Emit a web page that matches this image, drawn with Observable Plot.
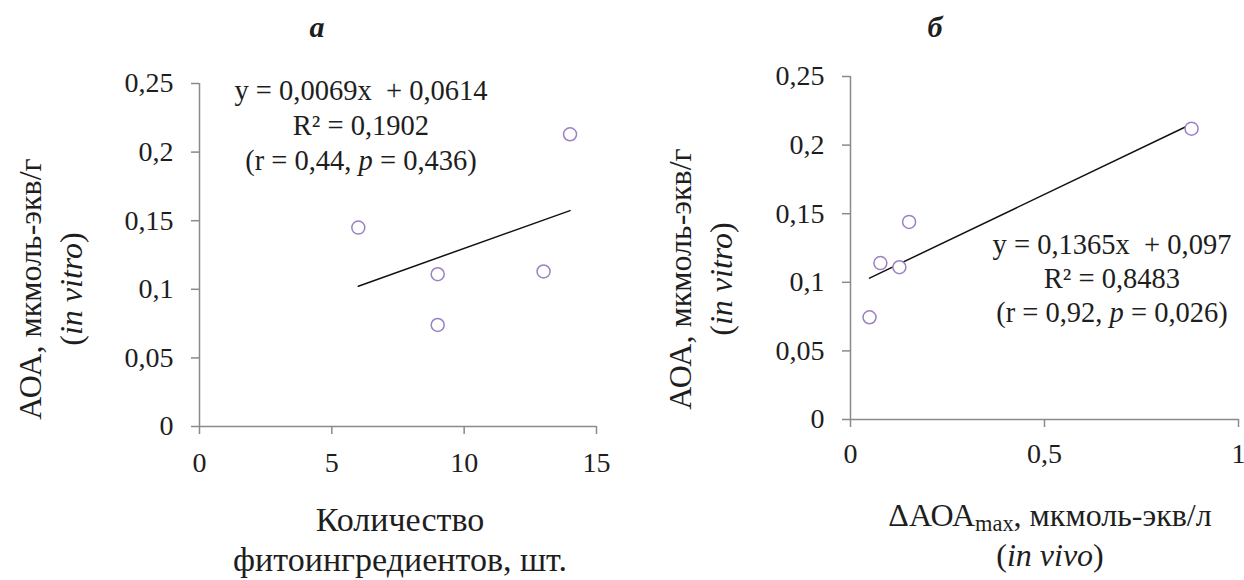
<!DOCTYPE html>
<html>
<head>
<meta charset="utf-8">
<script src="https://cdn.jsdelivr.net/npm/d3@7"></script>
<script src="https://cdn.jsdelivr.net/npm/@observablehq/plot@0.6"></script>
</head>
<body style="margin:0;background:#fff">
<div id="wrap" style="position:relative;width:1244px;height:580px;overflow:hidden;background:#fff;font-family:'Liberation Serif', serif;color:#1e1e1e"></div>
<script>
// ---------- data ----------
const panelLetters = ["а", "б"];
// panel а: number of phyto-ingredients vs AOA in vitro
const xA = [6, 9, 9, 13, 14];
const yA = [0.145, 0.111, 0.074, 0.113, 0.213];
// panel б: ΔAOA max in vivo vs AOA in vitro
const xB = [0.049, 0.077, 0.126, 0.151, 0.879];
const yB = [0.0745, 0.114, 0.111, 0.144, 0.212];

const yTicks = [0, 0.05, 0.1, 0.15, 0.2, 0.25];
const xTicksA = [0, 5, 10, 15];
const xTicksB = [0, 0.5, 1];

const eqA = ["y = 0,0069x  + 0,0614", "R² = 0,1902", "(r = 0,44, p = 0,436)"];
const eqB = ["y = 0,1365x  + 0,097", "R² = 0,8483", "(r = 0,92, p = 0,026)"];

const yTitle = ["АОА, мкмоль-экв/г", "in vitro"];
const xTitleA = ["Количество", "фитоингредиентов, шт."];
const xTitleB = ["ΔАОА", "max", ", мкмоль-экв/л", "in vivo"];

// ---------- helpers ----------
const comma = d => String(d).replace(".", ",");
const AXIS = "#8a8a8a";
const DOT = "#9d80c4";
const FONT = "'Liberation Serif', serif";

function panel(xs, ys, opts) {
  const data = xs.map((x, i) => ({x, y: ys[i]}));
  return Plot.plot({
    width: 622,
    height: 580,
    marginLeft: opts.ml, marginRight: opts.mr, marginTop: opts.mt, marginBottom: opts.mb,
    style: {fontFamily: FONT, fontSize: "28px", color: "#1e1e1e", background: "transparent", overflow: "visible"},
    x: {domain: opts.xdomain},
    y: {domain: [0, 0.25]},
    marks: [
      Plot.ruleX([0], {stroke: AXIS, strokeWidth: 1.5}),
      Plot.ruleY([0], {stroke: AXIS, strokeWidth: 1.5}),
      Plot.axisY({ticks: yTicks, tickFormat: comma, tickSize: 8, tickPadding: 18, stroke: AXIS, strokeWidth: 1.5, label: null, fontFamily: FONT, fontSize: 28}),
      Plot.axisX({ticks: opts.xticks, tickFormat: comma, tickSize: 8, tickPadding: opts.xpad, stroke: AXIS, strokeWidth: 1.5, label: null, fontFamily: FONT, fontSize: 28}),
      Plot.linearRegressionY(data, {x: "x", y: "y", stroke: "#111", strokeWidth: 1.5, ci: 0}),
      Plot.dot(data, {x: "x", y: "y", r: 6.5, stroke: DOT, strokeWidth: 1.5, fill: "white"})
    ]
  });
}

const wrap = document.getElementById("wrap");
function addPanel(svg, left) {
  const d = document.createElement("div");
  d.style.position = "absolute";
  d.style.top = "0px";
  d.style.left = left + "px";
  svg.style.fontFamily = FONT;
  d.appendChild(svg);
  wrap.appendChild(d);
}
addPanel(panel(xA, yA, {ml: 199, mr: 26, mt: 83, mb: 154, xdomain: [0, 15], xticks: xTicksA, xpad: 18}), 0);
addPanel(panel(xB, yB, {ml: 228, mr: 6, mt: 76, mb: 161, xdomain: [0, 1], xticks: xTicksB, xpad: 16}), 622);

function addDiv(html, css) {
  const d = document.createElement("div");
  d.innerHTML = html;
  d.style.position = "absolute";
  d.style.whiteSpace = "nowrap";
  d.style.fontFamily = FONT;
  Object.assign(d.style, css);
  wrap.appendChild(d);
  return d;
}
const ital = s => s.replace(/p =/, "<i>p</i> =");

// panel letters
addDiv(panelLetters[0], {left: "317px", top: "12px", transform: "translateX(-50%)", fontSize: "30px", lineHeight: "30px", fontWeight: "bold", fontStyle: "italic"});
addDiv(panelLetters[1], {left: "935px", top: "12px", transform: "translateX(-50%)", fontSize: "30px", lineHeight: "30px", fontWeight: "bold", fontStyle: "italic"});

// equations
addDiv(eqA.map(ital).join("<br>"), {left: "361px", top: "73px", transform: "translateX(-50%)", fontSize: "28.5px", lineHeight: "35px", textAlign: "center", whiteSpace: "pre"});
addDiv(eqB.map(ital).join("<br>"), {left: "1112px", top: "228px", transform: "translateX(-50%)", fontSize: "28.5px", lineHeight: "34px", textAlign: "center", whiteSpace: "pre"});

// y titles (rotated)
const yHtml = yTitle[0] + "<br>(<i>" + yTitle[1] + "</i>)";
addDiv(yHtml, {left: "51px", top: "289px", transform: "translate(-50%,-50%) rotate(-90deg)", fontSize: "32px", lineHeight: "41px", textAlign: "center"});
addDiv(yHtml, {left: "701px", top: "279px", transform: "translate(-50%,-50%) rotate(-90deg)", fontSize: "32px", lineHeight: "41px", textAlign: "center"});

// x titles
addDiv(xTitleA.join("<br>"), {left: "400px", top: "500px", transform: "translateX(-50%)", fontSize: "34px", lineHeight: "40px", textAlign: "center"});
addDiv(xTitleB[0] + "<span style='font-size:0.7em;vertical-align:-0.22em;line-height:0'>" + xTitleB[1] + "</span>" + xTitleB[2],
  {left: "1050px", top: "497px", transform: "translateX(-50%)", fontSize: "32px", lineHeight: "36px", textAlign: "center"});
addDiv("(<i>" + xTitleB[3] + "</i>)",
  {left: "1050px", top: "537px", transform: "translateX(-50%)", fontSize: "32px", lineHeight: "36px", textAlign: "center"});
</script>
</body>
</html>
